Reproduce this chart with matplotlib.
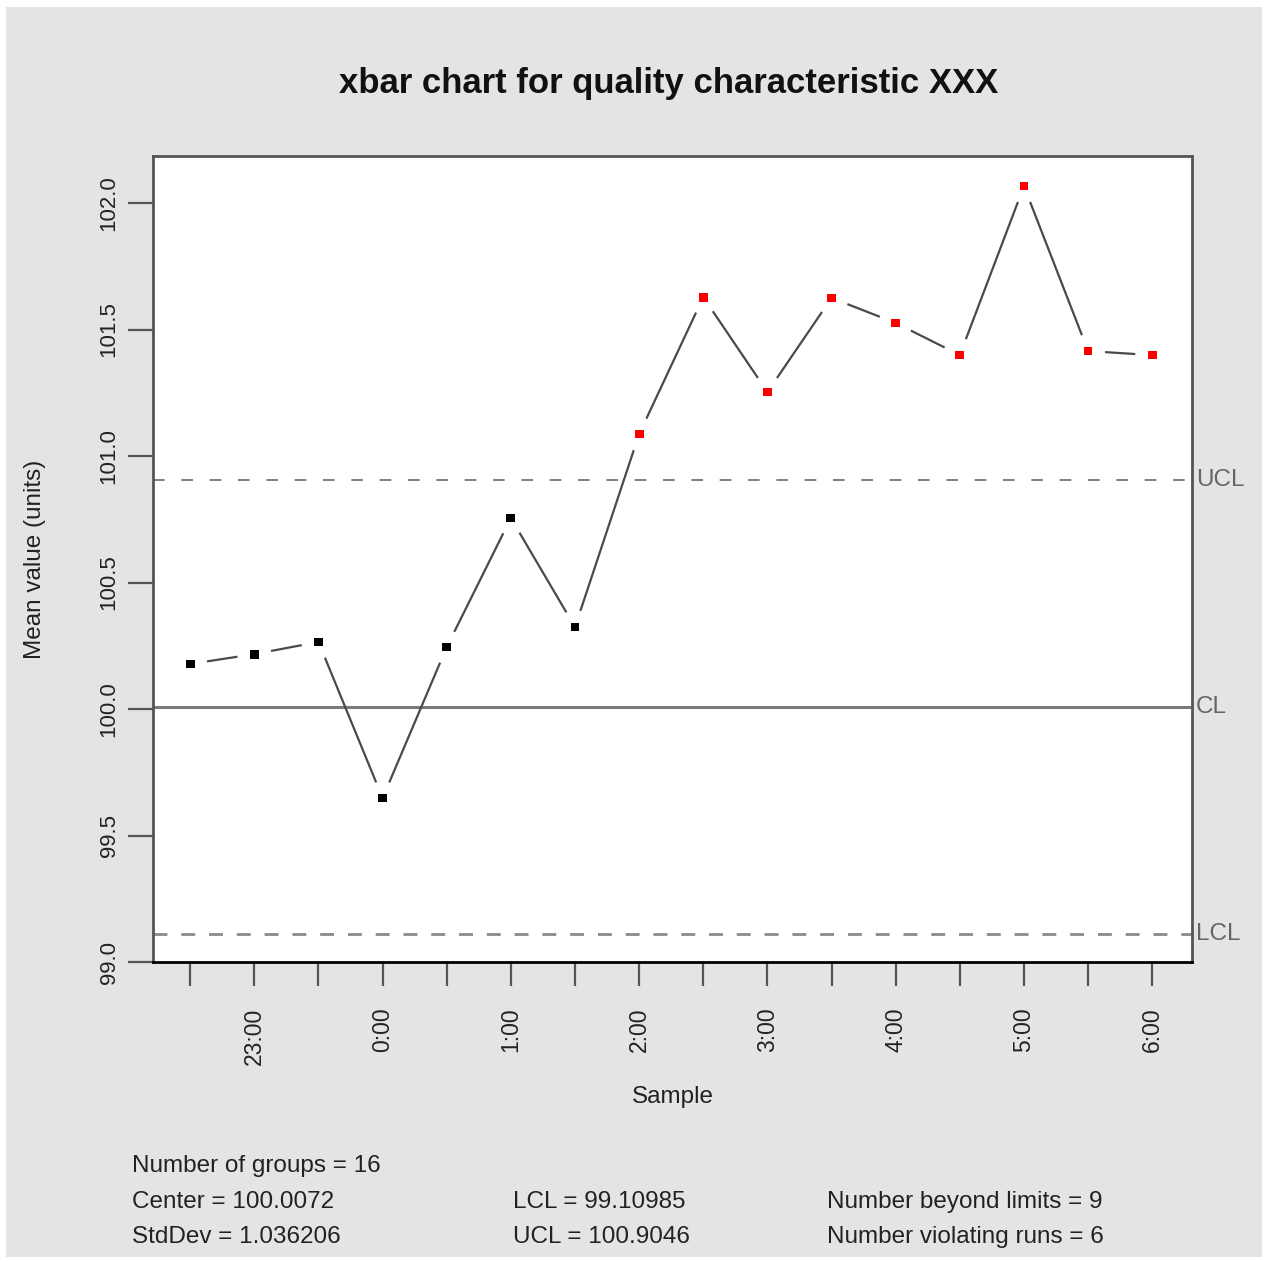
import matplotlib
matplotlib.use("Agg")
import matplotlib.pyplot as plt
import numpy as np
from matplotlib.patches import Rectangle

plt.rcParams['font.family'] = ['Liberation Sans', 'DejaVu Sans']

# group means, one per sample (every 30 min from 22:30)
means = [100.178, 100.217, 100.265, 99.648, 100.245, 100.755, 100.324, 101.087,
         101.628, 101.253, 101.625, 101.526, 101.399, 102.067, 101.415, 101.399]
tick_labels = ["", "23:00", "", "0:00", "", "1:00", "", "2:00",
               "", "3:00", "", "4:00", "", "5:00", "", "6:00"]
center = 100.0072
lcl = 99.10985
ucl = 100.9046
stddev = 1.036206
n_beyond = 9
n_runs = 6

x = np.arange(1, len(means) + 1)
y = np.array(means)

fig = plt.figure(figsize=(12.66, 12.61), dpi=100, facecolor="white")
# grey device background with thin white border
fig.patches.append(Rectangle((6 / 1266, 1 - 1257 / 1261), 1256 / 1266, 1250 / 1261,
                             transform=fig.transFigure, facecolor="#e4e4e4",
                             edgecolor="none", zorder=-10))

ax = fig.add_axes([153 / 1266, 1 - 962 / 1261, 1039 / 1266, 806 / 1261])
ax.set_facecolor("white")
ax.set_xlim(0.42, 16.62)
ax.set_ylim(99.0, 102.186)

# centre and control limits
ax.axhline(center, color="#7a7a7a", lw=2.2)
ax.axhline(ucl, color="#6a6a6a", lw=1.2, ls=(0, (7, 10)))
ax.axhline(lcl, color="#8a8a8a", lw=2.0, ls=(0, (5, 5)))

# R type="b" style: segments stop short of each point
gap = 17
pts = ax.transData.transform(np.column_stack([x, y]))
inv = ax.transData.inverted()
for i in range(len(pts) - 1):
    p0, p1 = pts[i], pts[i + 1]
    d = p1 - p0
    L = np.hypot(*d)
    if L <= 2 * gap:
        continue
    u = d / L
    a = inv.transform(p0 + u * gap)
    b = inv.transform(p1 - u * gap)
    ax.plot([a[0], b[0]], [a[1], b[1]], color="#4a4a4a", lw=1.6,
            solid_capstyle="butt")

colors = ["red" if (v > ucl or v < lcl) else "black" for v in means]
ax.scatter(x, y, marker="s", s=40, c=colors, zorder=5, linewidths=0)

for s in ["top", "left", "right"]:
    ax.spines[s].set_color("#555555")
    ax.spines[s].set_linewidth(2)
ax.spines["bottom"].set_color("black")
ax.spines["bottom"].set_linewidth(2)

ax.set_yticks([99.0, 99.5, 100.0, 100.5, 101.0, 101.5, 102.0])
ax.set_yticklabels(["99.0", "99.5", "100.0", "100.5", "101.0", "101.5", "102.0"],
                   rotation=90, va="center", fontsize=16, color="#222222")
ax.tick_params(axis="y", length=18, width=1.6, color="#555555", pad=6)

ax.set_xticks(x)
ax.set_xticklabels(tick_labels, rotation=90, va="top", ha="center",
                   fontsize=16.5, color="#222222")
ax.tick_params(axis="x", length=17, width=1.6, color="#555555", pad=16)

ax.set_xlabel("Sample", fontsize=17.5, color="#222222", labelpad=15)
ax.set_ylabel("Mean value (units)", fontsize=17.5, color="#222222", labelpad=38)
fig.text(0.5 * (340 + 997) / 1266, 1 - 84 / 1261,
         "xbar chart for quality characteristic XXX", ha="center", va="center",
         fontsize=25, fontweight="bold", color="#111111")

for val, name in [(ucl, "UCL"), (center, "CL"), (lcl, "LCL")]:
    ax.text(1.004, val, name, transform=ax.get_yaxis_transform(),
            ha="left", va="center", fontsize=17.5, color="#666666", clip_on=False)

stats = [
    (132, 1166, "Number of groups = 16"),
    (132, 1202, "Center = {:.4f}".format(center)),
    (132, 1237, "StdDev = {:.6f}".format(stddev)),
    (513, 1202, "LCL = {:.5f}".format(lcl)),
    (513, 1237, "UCL = {:.4f}".format(ucl)),
    (827, 1202, "Number beyond limits = {}".format(n_beyond)),
    (827, 1237, "Number violating runs = {}".format(n_runs)),
]
for px, py, s in stats:
    fig.text(px / 1266, 1 - py / 1261, s, ha="left", va="center",
             fontsize=17.5, color="#222222")

fig.savefig("out.png", dpi=100, facecolor="white")
